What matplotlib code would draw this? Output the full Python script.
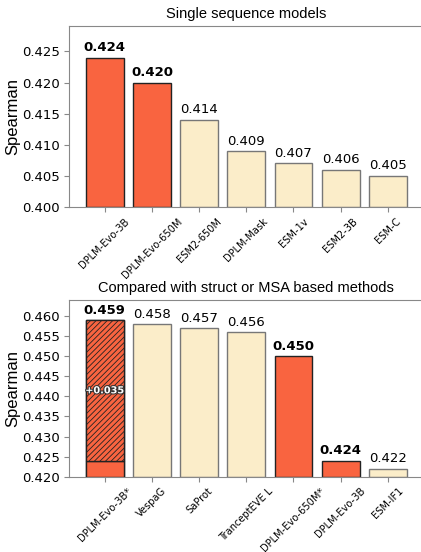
import matplotlib.pyplot as plt
import matplotlib.patheffects as pe
import numpy as np

# Single sequence models
single_names = ["DPLM-Evo-3B", "DPLM-Evo-650M", "ESM2-650M", "DPLM-Mask",
                "ESM-1v", "ESM2-3B", "ESM-C"]
single_scores = [0.424, 0.420, 0.414, 0.409, 0.407, 0.406, 0.405]
single_ours = [True, True, False, False, False, False, False]

# Compared with struct / MSA based methods
msa_names = ["DPLM-Evo-3B*", "VespaG", "SaProt", "TranceptEVE L",
             "DPLM-Evo-650M*", "DPLM-Evo-3B", "ESM-IF1"]
msa_scores = [0.459, 0.458, 0.457, 0.456, 0.450, 0.424, 0.422]
msa_ours = [True, False, False, False, True, True, False]
boost_base = 0.424   # DPLM-Evo-3B before the boost
boost_gain = 0.035

RED = "#F96440"
BEIGE = "#FBEDC9"

plt.rcParams["hatch.linewidth"] = 0.6

fig = plt.figure(figsize=(4.21, 5.52), dpi=100)
ax1 = fig.add_axes([0.165, 0.625, 0.840, 0.328])
ax2 = fig.add_axes([0.165, 0.1365, 0.840, 0.320])


def draw_panel(ax, names, scores, ours, ylim, yticks, title):
    x = np.arange(len(names))
    colors = [RED if o else BEIGE for o in ours]
    edges = ["#222222" if o else "#777777" for o in ours]
    bottom = ylim[0]
    heights = [s - bottom for s in scores]
    ax.bar(x, heights, bottom=bottom, width=0.8, color=colors,
           edgecolor=edges, linewidth=1.0, zorder=2)
    for xi, s, o in zip(x, scores, ours):
        ax.annotate(f"{s:.3f}", (xi, s), xytext=(0, 2.5),
                    textcoords="offset points", ha="center", va="bottom",
                    fontsize=9.5, fontweight="bold" if o else "normal")
    ax.set_xticks(x)
    ax.set_xticklabels(names, rotation=45, fontsize=7.1)
    ax.set_yticks(yticks)
    ax.set_yticklabels([f"{t:.3f}" for t in yticks], fontsize=9.5)
    ax.set_ylim(*ylim)
    ax.set_xlim(-0.746, len(names) - 1 + 0.746)
    ax.set_ylabel("Spearman", fontsize=12, family="Liberation Sans",
                  labelpad=1)
    ax.set_title(title, fontsize=10.5, family="Liberation Sans", pad=6)
    for sp in ax.spines.values():
        sp.set_color("#888888")
    ax.tick_params(colors="#888888", labelcolor="black")
    ax.tick_params(axis="x", pad=3)
    return x


draw_panel(ax1, single_names, single_scores, single_ours,
           (0.400, 0.4291), np.arange(0.400, 0.4251, 0.005),
           "Single sequence models")

x2 = draw_panel(ax2, msa_names, msa_scores, msa_ours,
                (0.420, 0.464), np.arange(0.420, 0.4601, 0.005),
                "Compared with struct or MSA based methods")

# Overlay the boosted part of the first bar with a hatch
ax2.bar(x2[0], boost_base - 0.420, bottom=0.420, width=0.8, color=RED,
        edgecolor="#222222", linewidth=1.0, zorder=3)
ax2.bar(x2[0], boost_gain, bottom=boost_base, width=0.8, color=RED,
        edgecolor="#222222", linewidth=1.0, hatch="//////", zorder=3)
ax2.text(x2[0], boost_base + boost_gain / 2, f"+{boost_gain:.3f}",
         ha="center", va="center", fontsize=7, fontweight="bold",
         color="white", zorder=4,
         path_effects=[pe.withStroke(linewidth=1.5, foreground="#333333")])

fig.savefig("out.png", dpi=100)
